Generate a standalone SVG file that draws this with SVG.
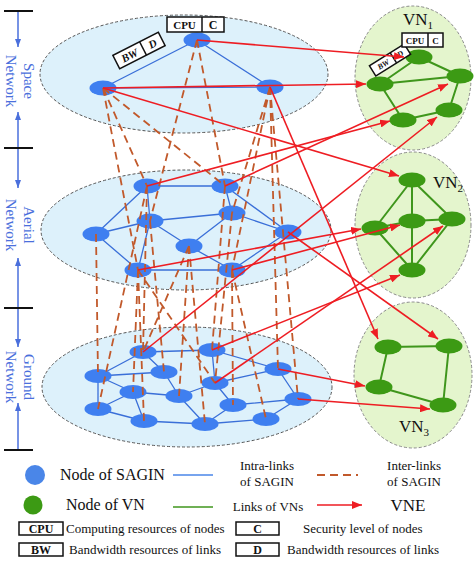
<svg xmlns="http://www.w3.org/2000/svg" width="474" height="561" viewBox="0 0 474 561">
<style>
.sn{fill:#3f7ff0}
.vn{fill:#3c9a14}
.il{stroke:#3a6fd8;stroke-width:1.3;fill:none}
.vl{stroke:#3f961c;stroke-width:2;fill:none}
.xl{stroke:#c1592b;stroke-width:1.8;stroke-dasharray:8 5;fill:none}
.ar{stroke:#ee1d23;stroke-width:1.6;fill:none;marker-end:url(#ah)}
.lay{fill:#ddf1fb;stroke:#555;stroke-dasharray:3 2;stroke-width:1}
.vnr{fill:#e4f5cd;stroke:#8a8a8a;stroke-dasharray:3 2;stroke-width:1}
.ax{stroke:#4a6fdc;stroke-width:1.5;marker-end:url(#ba)}
.tick{stroke:#111;stroke-width:2}
.axt{font-family:'Liberation Serif',serif;font-size:15px;fill:#4a6fdc;text-anchor:middle}
.box{fill:#fff;stroke:#111;stroke-width:1.5}
.bt{font-family:'Liberation Serif',serif;font-weight:bold;fill:#111;text-anchor:middle}
.t{font-family:'Liberation Serif',serif;fill:#111}
.vt{font-family:'Liberation Serif',serif;font-size:17px;fill:#111}
</style>
<defs>
<marker id="ah" viewBox="0 0 10 8" refX="10" refY="4" markerWidth="10" markerHeight="8" markerUnits="userSpaceOnUse" orient="auto"><path d="M0,0 L10,4 L0,8 z" fill="#ee1d23"/></marker>
<marker id="ba" viewBox="0 0 8 6" refX="8" refY="3" markerWidth="8" markerHeight="6" markerUnits="userSpaceOnUse" orient="auto"><path d="M0,0 L8,3 L0,6 z" fill="#4a6fdc"/></marker>
</defs>

<g id="axis">
<line class="tick" x1="4" y1="11" x2="33" y2="11"/>
<line class="tick" x1="4" y1="148" x2="33" y2="148"/>
<line class="tick" x1="4" y1="308" x2="33" y2="308"/>
<line class="tick" x1="4" y1="450" x2="33" y2="450"/>
<line class="ax" x1="18" y1="12" x2="18" y2="47"/>
<line class="ax" x1="18" y1="147" x2="18" y2="112"/>
<line class="ax" x1="18" y1="149" x2="18" y2="188"/>
<line class="ax" x1="18" y1="307" x2="18" y2="258"/>
<line class="ax" x1="18" y1="309" x2="18" y2="347"/>
<line class="ax" x1="18" y1="449" x2="18" y2="403"/>
<text class="axt" transform="translate(24,81) rotate(90)">Space</text>
<text class="axt" transform="translate(6,81) rotate(90)">Network</text>
<text class="axt" transform="translate(24,225) rotate(90)">Aerial</text>
<text class="axt" transform="translate(6,225) rotate(90)">Network</text>
<text class="axt" transform="translate(24,377) rotate(90)">Ground</text>
<text class="axt" transform="translate(6,377) rotate(90)">Network</text>
</g>

<g id="regions">
<ellipse id="space-layer" class="lay" cx="184" cy="74" rx="144" ry="59"/>
<ellipse id="aerial-layer" class="lay" cx="186" cy="230" rx="145" ry="60"/>
<ellipse id="ground-layer" class="lay" cx="187" cy="387" rx="145" ry="60"/>
<ellipse id="vn1-region" class="vnr" cx="413" cy="78" rx="58" ry="72"/>
<ellipse id="vn2-region" class="vnr" cx="413" cy="225" rx="58" ry="73"/>
<ellipse id="vn3-region" class="vnr" cx="413" cy="375" rx="59" ry="73"/>
<text class="vt" x="403" y="25">VN<tspan font-size="11" dy="4">1</tspan></text>
<text class="vt" x="433" y="188">VN<tspan font-size="11" dy="4">2</tspan></text>
<text class="vt" x="399" y="432">VN<tspan font-size="11" dy="4">3</tspan></text>
</g>

<g id="intra-links">
<path class="il" d="M197,40 L103,88 M197,40 L270,87 M103,88 L270,87"/>
<path class="il" d="M147,186 L225,186 M147,186 L96,234 M147,186 L150,221 M150,221 L96,234 M150,221 L232,213 M150,221 L189,246 M150,221 L138,270 M96,234 L138,270 M138,270 L232,270 M189,246 L232,270 M189,246 L232,213 M225,186 L232,213 M225,186 L288,232 M232,213 L288,232 M232,270 L288,232"/>
<path class="il" d="M143,352 L212,350 M143,352 L98,376 M143,352 L164,372 M212,350 L215,383 M212,350 L278,369 M98,376 L164,372 M98,376 L133,392 M98,376 L98,409 M164,372 L179,396 M215,383 L179,396 M215,383 L278,369 M215,383 L233,405 M133,392 L179,396 M133,392 L98,409 M133,392 L144,421 M98,409 L144,421 M144,421 L205,424 M179,396 L205,424 M205,424 L233,405 M233,405 L298,399 M278,369 L298,399 M298,399 L266,419 M205,424 L266,419"/>
<path class="vl" d="M419,57 L380,84 M419,57 L460,76 M380,84 L460,76 M380,84 L403,120 M403,120 L449,110 M449,110 L460,76"/>
<path class="vl" d="M412,180 L375,228 M412,180 L412,221 M412,180 L452,219 M375,228 L412,221 M412,221 L452,219 M412,221 L412,270 M375,228 L412,270 M452,219 L412,270"/>
<path class="vl" d="M388,347 L449,346 M388,347 L379,387 M379,387 L443,405 M449,346 L443,405"/>
</g>

<g id="space-T"><ellipse class="sn" cx="197" cy="40" rx="13.5" ry="7.5"/></g>
<g id="space-L"><ellipse class="sn" cx="103" cy="88" rx="13.5" ry="7.5"/></g>
<g id="space-R"><ellipse class="sn" cx="270" cy="87" rx="13.5" ry="7.5"/></g>
<g id="aerial-1"><ellipse class="sn" cx="147" cy="186" rx="13.5" ry="7.5"/></g>
<g id="aerial-2"><ellipse class="sn" cx="225" cy="186" rx="13.5" ry="7.5"/></g>
<g id="aerial-3"><ellipse class="sn" cx="150" cy="221" rx="13.5" ry="7.5"/></g>
<g id="aerial-4"><ellipse class="sn" cx="232" cy="213" rx="13.5" ry="7.5"/></g>
<g id="aerial-5"><ellipse class="sn" cx="96" cy="234" rx="13.5" ry="7.5"/></g>
<g id="aerial-6"><ellipse class="sn" cx="189" cy="246" rx="13.5" ry="7.5"/></g>
<g id="aerial-7"><ellipse class="sn" cx="138" cy="270" rx="13.5" ry="7.5"/></g>
<g id="aerial-8"><ellipse class="sn" cx="232" cy="270" rx="13.5" ry="7.5"/></g>
<g id="aerial-9"><ellipse class="sn" cx="288" cy="232" rx="13.5" ry="7.5"/></g>
<g id="ground-1"><ellipse class="sn" cx="143" cy="352" rx="13.5" ry="7"/></g>
<g id="ground-2"><ellipse class="sn" cx="212" cy="350" rx="13.5" ry="7"/></g>
<g id="ground-3"><ellipse class="sn" cx="98" cy="376" rx="13.5" ry="7"/></g>
<g id="ground-4"><ellipse class="sn" cx="164" cy="372" rx="13.5" ry="7"/></g>
<g id="ground-5"><ellipse class="sn" cx="278" cy="369" rx="13.5" ry="7"/></g>
<g id="ground-6"><ellipse class="sn" cx="215" cy="383" rx="13.5" ry="7"/></g>
<g id="ground-7"><ellipse class="sn" cx="133" cy="392" rx="13.5" ry="7"/></g>
<g id="ground-8"><ellipse class="sn" cx="179" cy="396" rx="13.5" ry="7"/></g>
<g id="ground-9"><ellipse class="sn" cx="233" cy="405" rx="13.5" ry="7"/></g>
<g id="ground-10"><ellipse class="sn" cx="298" cy="399" rx="13.5" ry="7"/></g>
<g id="ground-11"><ellipse class="sn" cx="98" cy="409" rx="13.5" ry="7"/></g>
<g id="ground-12"><ellipse class="sn" cx="144" cy="421" rx="13.5" ry="7"/></g>
<g id="ground-13"><ellipse class="sn" cx="205" cy="424" rx="13.5" ry="7"/></g>
<g id="ground-14"><ellipse class="sn" cx="266" cy="419" rx="13.5" ry="7"/></g>

<g id="vn1-A"><ellipse class="vn" cx="419" cy="57" rx="13.5" ry="7.5"/></g>
<g id="vn1-B"><ellipse class="vn" cx="380" cy="84" rx="13.5" ry="7.5"/></g>
<g id="vn1-C"><ellipse class="vn" cx="460" cy="76" rx="13.5" ry="7.5"/></g>
<g id="vn1-D"><ellipse class="vn" cx="449" cy="110" rx="13.5" ry="7.5"/></g>
<g id="vn1-E"><ellipse class="vn" cx="403" cy="120" rx="13.5" ry="7.5"/></g>
<g id="vn2-top"><ellipse class="vn" cx="412" cy="180" rx="13.5" ry="7.5"/></g>
<g id="vn2-left"><ellipse class="vn" cx="375" cy="228" rx="13.5" ry="7.5"/></g>
<g id="vn2-center"><ellipse class="vn" cx="412" cy="221" rx="13.5" ry="7.5"/></g>
<g id="vn2-right"><ellipse class="vn" cx="452" cy="219" rx="13.5" ry="7.5"/></g>
<g id="vn2-bottom"><ellipse class="vn" cx="412" cy="270" rx="13.5" ry="7.5"/></g>
<g id="vn3-TL"><ellipse class="vn" cx="388" cy="347" rx="13.5" ry="7.5"/></g>
<g id="vn3-TR"><ellipse class="vn" cx="449" cy="346" rx="13.5" ry="7.5"/></g>
<g id="vn3-ML"><ellipse class="vn" cx="379" cy="387" rx="13.5" ry="7.5"/></g>
<g id="vn3-BR"><ellipse class="vn" cx="443" cy="405" rx="13.5" ry="7.5"/></g>

<g id="resource-labels">
<g transform="translate(139,50.5) rotate(-27)">
<rect class="box" x="-25.5" y="-7.5" width="51" height="15"/>
<line class="box" x1="4.5" y1="-7.5" x2="4.5" y2="7.5"/>
<text class="bt" x="-10.5" y="4" font-size="11" font-style="italic">BW</text>
<text class="bt" x="15" y="4" font-size="11" font-style="italic">D</text>
</g>
<rect class="box" x="167" y="17" width="57" height="15"/>
<line class="box" x1="202" y1="17" x2="202" y2="32"/>
<text class="bt" x="184.5" y="28.5" font-size="11">CPU</text>
<text class="bt" x="213" y="28.5" font-size="12">C</text>
<g transform="translate(390,60) rotate(-32)">
<rect class="box" x="-20.5" y="-6" width="41" height="12"/>
<line class="box" x1="4" y1="-6" x2="4" y2="6"/>
<text class="bt" x="-8" y="3" font-size="8" font-style="italic">BW</text>
<text class="bt" x="12" y="3" font-size="8" font-style="italic">D</text>
</g>
<rect class="box" x="402" y="33" width="41" height="14"/>
<line class="box" x1="428" y1="33" x2="428" y2="47"/>
<text class="bt" x="415" y="43.5" font-size="9">CPU</text>
<text class="bt" x="435.5" y="43.5" font-size="9">C</text>
</g>

<g id="inter-links">
<path class="xl" d="M103,88 L147,186 M103,88 L138,270 M103,88 L225,186 M197,40 L150,221 M197,40 L225,186 M270,87 L232,213 M270,87 L232,270 M270,87 L278,369 M270,87 L298,399"/>
<path class="xl" d="M96,234 L98,376 M147,186 L98,409 M147,186 L143,352 M138,270 L133,392 M138,270 L144,421 M138,270 L215,383 M189,246 L143,352 M150,221 L164,372 M189,246 L179,396 M189,246 L205,424 M225,186 L212,350 M232,270 L266,419 M232,270 L233,405 M232,213 L215,383"/>
</g>

<g id="vne-links">
<line class="ar" x1="197" y1="40" x2="404" y2="57"/>
<line class="ar" x1="103" y1="88" x2="366" y2="84"/>
<line class="ar" x1="103" y1="88" x2="399" y2="176"/>
<line class="ar" x1="270" y1="87" x2="378" y2="339"/>
<line class="ar" x1="147" y1="186" x2="390" y2="121"/>
<line class="ar" x1="225" y1="186" x2="448" y2="84"/>
<line class="ar" x1="288" y1="232" x2="438" y2="339"/>
<line class="ar" x1="138" y1="270" x2="361" y2="229"/>
<line class="ar" x1="232" y1="270" x2="400" y2="225"/>
<line class="ar" x1="143" y1="352" x2="437" y2="117"/>
<line class="ar" x1="212" y1="350" x2="400" y2="275"/>
<line class="ar" x1="215" y1="383" x2="443" y2="226"/>
<line class="ar" x1="278" y1="369" x2="365" y2="386"/>
<line class="ar" x1="298" y1="399" x2="430" y2="409"/>
</g>

<g id="legend">
<circle cx="35" cy="475" r="10" fill="#4a86e8"/>
<text class="t" x="60" y="480" font-size="16">Node of SAGIN</text>
<line x1="173" y1="475" x2="213" y2="475" stroke="#4a86e8" stroke-width="1.5"/>
<text class="t" x="267" y="470" font-size="13" text-anchor="middle">Intra-links</text>
<text class="t" x="267" y="486" font-size="13" text-anchor="middle">of SAGIN</text>
<line class="xl" x1="317" y1="475" x2="358" y2="475" stroke-dasharray="8 6"/>
<text class="t" x="414" y="470" font-size="13" text-anchor="middle">Inter-links</text>
<text class="t" x="414" y="486" font-size="13" text-anchor="middle">of SAGIN</text>
<circle cx="33" cy="505" r="9.5" fill="#3c9a14"/>
<text class="t" x="66" y="510" font-size="16">Node of VN</text>
<line x1="173" y1="507" x2="213" y2="507" stroke="#3f961c" stroke-width="1.5"/>
<text class="t" x="268" y="511" font-size="13" text-anchor="middle">Links of VNs</text>
<line class="ar" x1="317" y1="505" x2="362" y2="505"/>
<text class="t" x="408" y="511" font-size="17" text-anchor="middle">VNE</text>
<rect class="box" x="19" y="522" width="44" height="13"/>
<text class="bt" x="41" y="533" font-size="12">CPU</text>
<text class="t" x="66" y="533" font-size="13">Computing resources of nodes</text>
<rect class="box" x="236" y="522" width="43" height="13"/>
<text class="bt" x="257.5" y="533" font-size="12">C</text>
<text class="t" x="303" y="533" font-size="13">Security level of nodes</text>
<rect class="box" x="19" y="543" width="44" height="13"/>
<text class="bt" x="41" y="554" font-size="12">BW</text>
<text class="t" x="69" y="554" font-size="13">Bandwidth resources of links</text>
<rect class="box" x="236" y="543" width="43" height="13"/>
<text class="bt" x="257.5" y="554" font-size="12">D</text>
<text class="t" x="287" y="554" font-size="13">Bandwidth resources of links</text>
</g>
</svg>
